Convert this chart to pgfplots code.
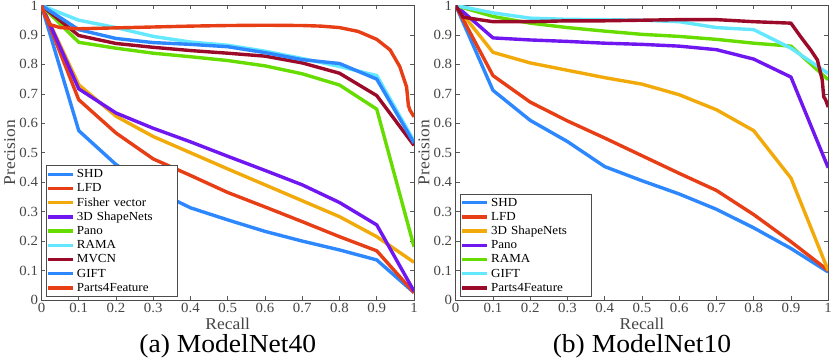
\documentclass[border=0pt]{standalone}
\usepackage{pgfplots}
\pgfplotsset{compat=1.18}
\usepackage{fontspec}
\setmainfont[FakeStretch=1.06]{Liberation Serif}

\definecolor{cshd}{RGB}{45,135,255}
\definecolor{clfd}{RGB}{232,62,22}
\definecolor{cfv}{RGB}{242,170,10}
\definecolor{cpur}{RGB}{112,22,240}
\definecolor{cgrn}{RGB}{102,220,0}
\definecolor{ccyan}{RGB}{100,232,255}
\definecolor{cmaroon}{RGB}{155,10,40}
\definecolor{txtgray}{RGB}{70,70,70}

\pgfplotsset{
  prstyle/.style={
    scale only axis, width=372.5pt, height=294.5pt,
    xmin=0, xmax=1, ymin=0, ymax=1,
    clip mode=individual,
    xtick={0,0.1,0.2,0.3,0.4,0.5,0.6,0.7,0.8,0.9,1},
    ytick={0,0.1,0.2,0.3,0.4,0.5,0.6,0.7,0.8,0.9,1},
    tick align=inside, major tick length=4pt,
    tick style={black!65, line width=0.6pt},
    axis line style={black!70, line width=0.8pt},
    ticklabel style={font=\fontsize{14}{14}\selectfont, text=txtgray},
    /pgf/number format/assume math mode=true,
    xlabel={Recall}, ylabel={Precision},
    label style={font=\fontsize{16.5}{16.5}\selectfont, text=txtgray},
    xlabel style={at={(axis description cs:0.5,-0.082)}, anchor=center},
    ylabel style={at={(axis description cs:-0.085,0.5)}, anchor=center, rotate=0},
    every axis plot/.append style={line width=3.4pt, line join=round},
    legend cell align=left,
    legend image code/.code={\draw[#1] (0pt,0pt) -- (25pt,0pt);},
    legend style={font=\fontsize{12.3}{12.3}\selectfont, draw=black!70,
      line width=0.6pt, inner xsep=0.5pt, inner ysep=1.7pt, row sep=0pt,
      anchor=south west,
      nodes={inner xsep=2pt, inner ysep=1.5pt, text height=9pt, text depth=2.2pt},
      /tikz/column 2/.style={text width=98pt}},
  }
}

\begin{document}
\begin{tikzpicture}
\path[use as bounding box] (-41.5pt,-63pt) rectangle (789.5pt,300pt);

% (a) ModelNet40
\begin{axis}[prstyle, at={(0pt,0pt)}, anchor=south west,
  legend style={at={(axis description cs:0.0113,0.0102)}}]
\addplot[cshd] coordinates {(0,1) (0.1,0.575) (0.2,0.46) (0.3,0.375) (0.4,0.313) (0.5,0.272) (0.6,0.233) (0.7,0.2) (0.8,0.17) (0.9,0.136) (1,0.025)};
\addlegendentry{SHD}
\addplot[clfd] coordinates {(0,1) (0.1,0.68) (0.2,0.567) (0.3,0.479) (0.4,0.423) (0.5,0.365) (0.6,0.316) (0.7,0.266) (0.8,0.215) (0.9,0.167) (1,0.025)};
\addlegendentry{LFD}
\addplot[cfv] coordinates {(0,1) (0.1,0.731) (0.2,0.624) (0.3,0.555) (0.4,0.5) (0.5,0.445) (0.6,0.391) (0.7,0.337) (0.8,0.283) (0.9,0.215) (1,0.128)};
\addlegendentry{Fisher vector}
\addplot[cpur] coordinates {(0,1) (0.1,0.717) (0.2,0.635) (0.3,0.583) (0.4,0.537) (0.5,0.488) (0.6,0.44) (0.7,0.391) (0.8,0.331) (0.9,0.255) (1,0.03)};
\addlegendentry{3D ShapeNets}
\addplot[cgrn] coordinates {(0,1) (0.1,0.875) (0.2,0.855) (0.3,0.838) (0.4,0.826) (0.5,0.813) (0.6,0.795) (0.7,0.768) (0.8,0.73) (0.9,0.648) (1,0.181)};
\addlegendentry{Pano}
\addplot[ccyan] coordinates {(0,1) (0.1,0.95) (0.2,0.925) (0.3,0.895) (0.4,0.876) (0.5,0.865) (0.6,0.845) (0.7,0.82) (0.8,0.793) (0.9,0.762) (1,0.54)};
\addlegendentry{RAMA}
\addplot[cmaroon] coordinates {(0,1) (0.1,0.898) (0.2,0.871) (0.3,0.858) (0.4,0.847) (0.5,0.838) (0.6,0.828) (0.7,0.805) (0.8,0.77) (0.9,0.694) (1,0.525)};
\addlegendentry{MVCN}
\addplot[cshd] coordinates {(0,1) (0.1,0.918) (0.2,0.888) (0.3,0.874) (0.4,0.868) (0.5,0.86) (0.6,0.84) (0.7,0.816) (0.8,0.803) (0.9,0.75) (1,0.533)};
\addlegendentry{GIFT}
\addplot[clfd] coordinates {(0,1) (0.01,0.965) (0.023,0.935) (0.05,0.925) (0.1,0.921) (0.2,0.924) (0.3,0.927) (0.4,0.93) (0.5,0.932) (0.6,0.933) (0.7,0.932) (0.75,0.93) (0.8,0.925) (0.85,0.912) (0.9,0.885) (0.936,0.849) (0.962,0.792) (0.98,0.724) (0.985,0.66) (0.989,0.645) (1,0.622)};
\addlegendentry{Parts4Feature}
\node[font=\fontsize{26}{26}\selectfont, text=black] at (axis description cs:0.5,-0.158) {(a) ModelNet40};
\end{axis}

% (b) ModelNet10
\begin{axis}[prstyle, at={(414.2pt,0pt)}, anchor=south west,
  legend style={at={(axis description cs:0.0115,0.0102)}}]
\addplot[cshd] coordinates {(0,1) (0.1,0.712) (0.2,0.61) (0.3,0.538) (0.4,0.453) (0.5,0.405) (0.6,0.36) (0.7,0.308) (0.8,0.245) (0.9,0.175) (1,0.095)};
\addlegendentry{SHD}
\addplot[clfd] coordinates {(0,1) (0.1,0.762) (0.2,0.672) (0.3,0.608) (0.4,0.55) (0.5,0.49) (0.6,0.43) (0.7,0.372) (0.8,0.29) (0.9,0.198) (1,0.1)};
\addlegendentry{LFD}
\addplot[cfv] coordinates {(0,1) (0.1,0.841) (0.2,0.805) (0.3,0.78) (0.4,0.755) (0.5,0.733) (0.6,0.697) (0.7,0.646) (0.8,0.575) (0.9,0.414) (1,0.1)};
\addlegendentry{3D ShapeNets}
\addplot[cpur] coordinates {(0,1) (0.1,0.89) (0.2,0.883) (0.3,0.878) (0.4,0.872) (0.5,0.868) (0.6,0.862) (0.7,0.85) (0.8,0.818) (0.9,0.757) (1,0.449)};
\addlegendentry{Pano}
\addplot[cgrn] coordinates {(0,1) (0.1,0.963) (0.2,0.94) (0.3,0.925) (0.4,0.913) (0.5,0.902) (0.6,0.895) (0.7,0.885) (0.8,0.872) (0.9,0.862) (1,0.748)};
\addlegendentry{RAMA}
\addplot[ccyan] coordinates {(0,1) (0.1,0.975) (0.2,0.957) (0.3,0.953) (0.4,0.952) (0.5,0.95) (0.6,0.945) (0.7,0.925) (0.8,0.918) (0.9,0.855) (1,0.769)};
\addlegendentry{GIFT}
\addplot[cmaroon] coordinates {(0,1) (0.02,0.96) (0.1,0.945) (0.2,0.945) (0.3,0.948) (0.4,0.948) (0.5,0.95) (0.6,0.952) (0.7,0.952) (0.8,0.945) (0.9,0.94) (0.926,0.894) (0.953,0.849) (0.971,0.815) (0.984,0.747) (0.988,0.69) (0.993,0.68) (1,0.655)};
\addlegendentry{Parts4Feature}
\node[font=\fontsize{26}{26}\selectfont, text=black] at (axis description cs:0.5,-0.158) {(b) ModelNet10};
\end{axis}
\end{tikzpicture}
\end{document}
